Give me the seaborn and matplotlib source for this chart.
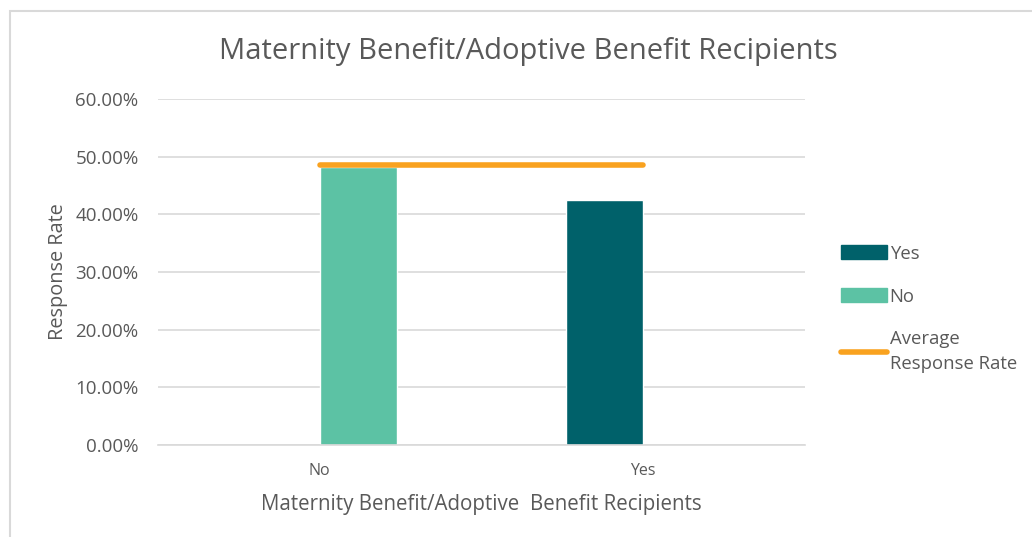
import numpy as np
import pandas as pd
import seaborn as sns
import matplotlib.pyplot as plt
from matplotlib.patches import Patch, Rectangle
from matplotlib.lines import Line2D
from matplotlib.ticker import PercentFormatter

categories = ["No", "Yes"]
series = ["No", "Yes"]
rates = [0.482, 0.424]
avg_rate = [0.485, 0.485]

teal_dark = "#00616A"
teal_light = "#5CC2A4"
orange = "#F9A21F"
grey_txt = "#595959"

sns.set_theme(style="white")
plt.rcParams["font.family"] = ["Open Sans", "DejaVu Sans"]

df = pd.DataFrame({"category": categories, "series": series, "rate": rates})

fig = plt.figure(figsize=(10.32, 5.37), dpi=100)
ax = fig.add_axes([158 / 1032, 1 - 445 / 537, 647 / 1032, 346 / 537])

sns.barplot(data=df, x="category", y="rate", hue="series", order=categories,
            hue_order=["Yes", "No"], palette={"Yes": teal_dark, "No": teal_light},
            width=0.476, dodge=True, saturation=1, legend=False, ax=ax, zorder=2)
sns.lineplot(x=[0, 1], y=avg_rate, color=orange, linewidth=4,
             solid_capstyle="round", ax=ax, zorder=3)

ax.set_xlim(-0.5, 1.5)
ax.set_ylim(0, 0.6)
ax.set_yticks(np.arange(0, 0.61, 0.1))
ax.yaxis.set_major_formatter(PercentFormatter(1.0, decimals=2))
ax.yaxis.grid(True, color="#d9d9d9", linewidth=1.2)
ax.set_axisbelow(True)
for s in ["top", "right", "left"]:
    ax.spines[s].set_visible(False)
ax.spines["bottom"].set_color("#d9d9d9")
ax.spines["bottom"].set_linewidth(1.2)
ax.tick_params(axis="y", colors=grey_txt, labelsize=13.5, length=0, pad=14)
ax.tick_params(axis="x", colors=grey_txt, labelsize=11.5, length=0, pad=13)
ax.set_xlabel("Maternity Benefit/Adoptive  Benefit Recipients", fontsize=14.8,
              color=grey_txt, labelpad=11)
ax.set_ylabel("Response Rate", fontsize=14.3, color=grey_txt, labelpad=5)

fig.text(528 / 1032, 1 - 51 / 537, "Maternity Benefit/Adoptive Benefit Recipients",
         ha="center", va="center", fontsize=21, color=grey_txt)

handles = [Patch(color=teal_dark), Patch(color=teal_light),
           Line2D([0], [0], color=orange, linewidth=4, solid_capstyle="round")]
labels = ["Yes", "No", "Average\nResponse Rate"]
leg = fig.legend(handles, labels, loc="upper left",
                 bbox_to_anchor=(824 / 1032, 1 - 228 / 537),
                 frameon=False, fontsize=13.3, labelcolor=grey_txt, handlelength=2.5,
                 handleheight=0.8, handletextpad=0.15, labelspacing=1.35)
for t in leg.get_texts():
    t.set_linespacing(1.45)

fig.patches.append(Rectangle((10 / 1032, -0.1), 1.2, 1 - 11 / 537 + 0.1,
                             transform=fig.transFigure, fill=False,
                             edgecolor="#d9d9d9", linewidth=1.5))

fig.savefig("out.png", dpi=100)
